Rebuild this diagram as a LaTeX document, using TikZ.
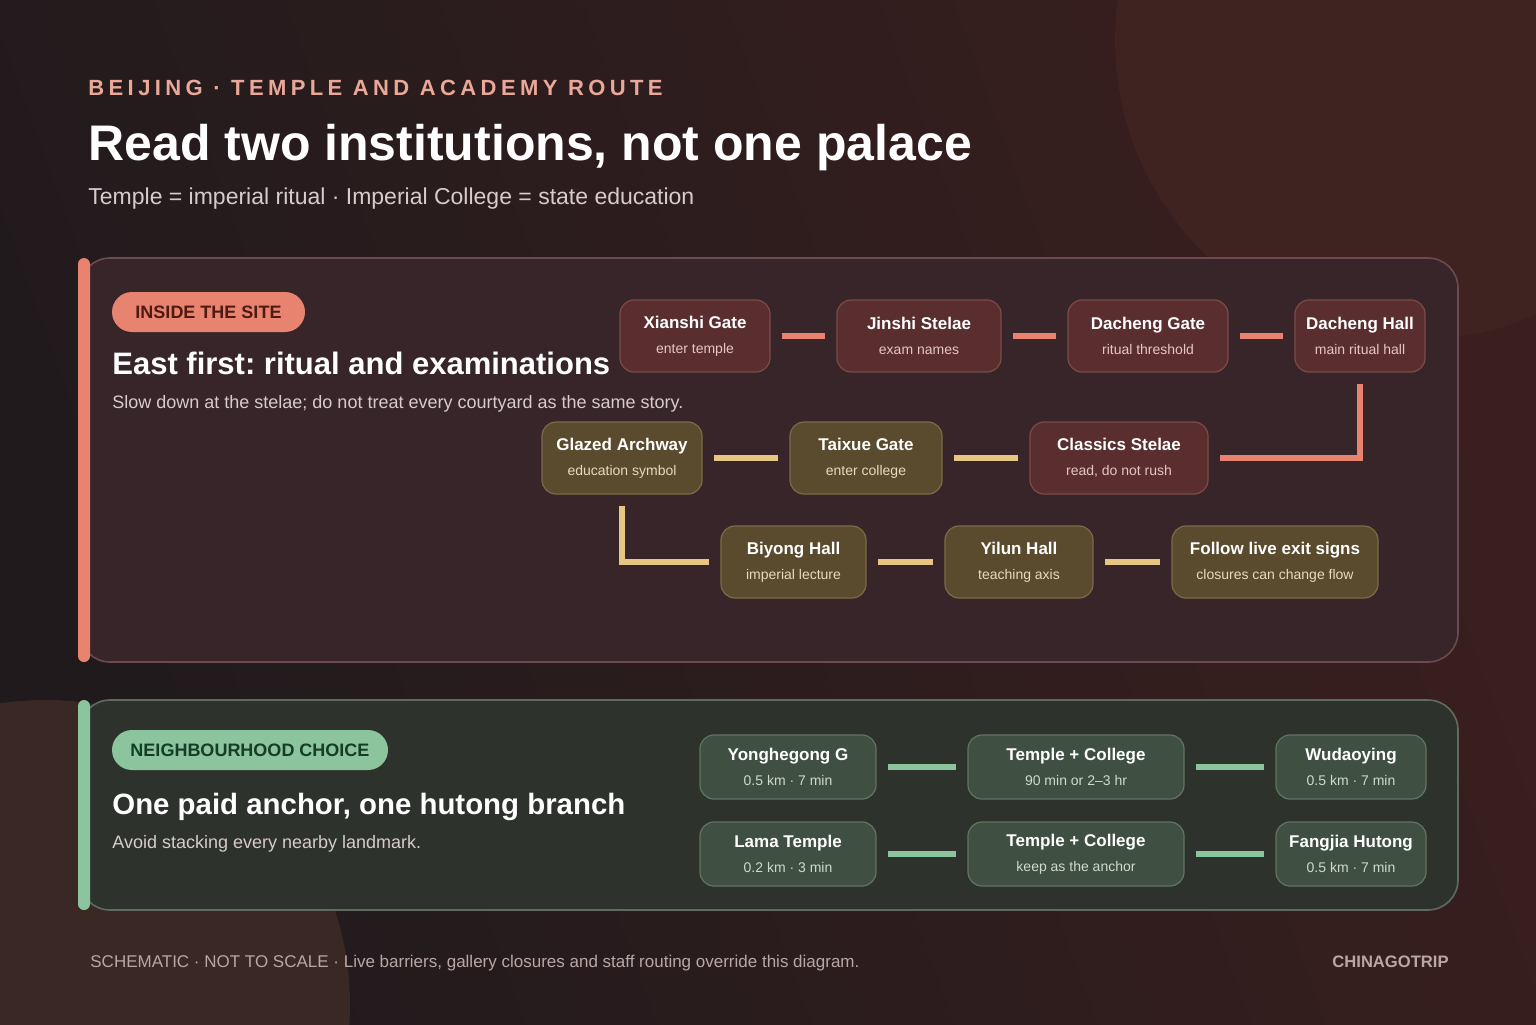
\documentclass[tikz,border=0pt]{standalone}
\usepackage{fontspec}
\setmainfont{Liberation Sans}
\usepackage{tikz}
\usetikzlibrary{positioning}
\usepackage{xcolor}
\frenchspacing
\definecolor{bgleft}{HTML}{201A1D}
\definecolor{bgright}{HTML}{3A1F1E}
\definecolor{blobred}{HTML}{3E2321}
\definecolor{blobbrown}{HTML}{3A2824}
\definecolor{salmon}{HTML}{E8836F}
\definecolor{salmonpale}{HTML}{EAA898}
\definecolor{goldline}{HTML}{E6C682}
\definecolor{mint}{HTML}{8CC49E}
\definecolor{pillred}{HTML}{4E1A12}
\definecolor{pillgreen}{HTML}{163D26}
\definecolor{panelred}{HTML}{37252A}
\definecolor{panelredline}{HTML}{6B4A50}
\definecolor{panelgreen}{HTML}{2E322D}
\definecolor{panelgreenline}{HTML}{5F6B5D}
\definecolor{ritualfill}{HTML}{5A2E2F}
\definecolor{ritualline}{HTML}{7D4B48}
\definecolor{collegefill}{HTML}{5A4A2E}
\definecolor{collegeline}{HTML}{7E6A46}
\definecolor{hoodfill}{HTML}{3F4F42}
\definecolor{hoodline}{HTML}{62755F}
\definecolor{ritualsub}{HTML}{E4C7C0}
\definecolor{collegesub}{HTML}{E6DAC0}
\definecolor{hoodsub}{HTML}{CFDACD}
\definecolor{softtext}{HTML}{D8CBCB}
\definecolor{foottext}{HTML}{B9A7A5}
\newcommand{\stopname}[1]{{\fontsize{8.5}{8.5}\selectfont\bfseries\color{white}#1}}

\tikzset{
  site/.style={rounded corners=7pt, draw, line width=0.6pt, inner sep=0pt,
    minimum height=36pt, align=center, font=\fontsize{7}{12.5}\selectfont},
  ritual/.style={site, fill=ritualfill, draw=ritualline, text=ritualsub},
  college/.style={site, fill=collegefill, draw=collegeline, text=collegesub},
  hood/.style={site, fill=hoodfill, draw=hoodline, text=hoodsub, minimum height=32pt},
  link/.style={line width=3pt, shorten <=5.5pt, shorten >=5.5pt},
  ritualink/.style={link, draw=salmon},
  collegelink/.style={link, draw=goldline},
  hoodlink/.style={link, draw=mint},
  pill/.style={rounded corners=10pt, inner sep=0pt, minimum height=20pt,
    font=\fontsize{9}{9}\selectfont\bfseries},
}

\begin{document}
\begin{tikzpicture}[x=0.5pt,y=-0.5pt]
  \useasboundingbox (0,0) rectangle (1536,1024);
  %% ---- backdrop ----
  \shade[left color=bgleft, right color=bgright, shading angle=110] (0,0) rectangle (1536,1024);
  \fill[blobred] (1415,40) circle (300);
  \fill[blobbrown] (45,1005) circle (305);

  %% ---- heading ----
  \node[anchor=base west, inner xsep=0pt, text=salmonpale, font=\fontsize{11}{11}\selectfont\bfseries\addfontfeature{LetterSpace=20}]
    (kicker) at (88,95) {BEIJING · TEMPLE AND ACADEMY ROUTE};
  \node[anchor=base west, inner xsep=0pt, text=white, font=\fontsize{25}{25}\selectfont\bfseries]
    (title) at (88,160) {Read two institutions, not one palace};
  \node[anchor=base west, inner xsep=0pt, text=softtext, font=\fontsize{11.5}{12}\selectfont]
    (subtitle) at (88,204) {Temple = imperial ritual · Imperial College = state education};

  %% ---- inside the site ----
  \begin{scope}
    \draw[fill=panelred, draw=panelredline, line width=0.8pt, rounded corners=15pt]
      (80,258) rectangle (1458,662);
    \fill[salmon, rounded corners=3pt] (78,258) rectangle (90,662);
    \node[pill, fill=salmon, text=pillred, minimum width=96.5pt] (sitepill) at (208.5,312) {INSIDE THE SITE};
    \node[anchor=base west, inner xsep=0pt, text=white, font=\fontsize{15.5}{16}\selectfont\bfseries]
      (sitehead) at (112,374) {East first: ritual and examinations};
    \node[anchor=base west, inner xsep=0pt, text=softtext, font=\fontsize{9}{10}\selectfont]
      (sitenote) at (112,408) {Slow down at the stelae; do not treat every courtyard as the same story.};

    %% temple row
    \node[ritual, minimum width=75pt] (xianshi) at (695,336) {\stopname{Xianshi Gate}\\ enter temple};
    \node[ritual, minimum width=82pt] (jinshi) at (919,336) {\stopname{Jinshi Stelae}\\ exam names};
    \node[ritual, minimum width=80pt] (dgate) at (1148,336) {\stopname{Dacheng Gate}\\ ritual threshold};
    \node[ritual, minimum width=65pt] (dhall) at (1360,336) {\stopname{Dacheng Hall}\\ main ritual hall};
    %% college rows
    \node[ritual, minimum width=89pt] (classics) at (1119,458) {\stopname{Classics Stelae}\\ read, do not rush};
    \node[college, minimum width=76pt] (taixue) at (866,458) {\stopname{Taixue Gate}\\ enter college};
    \node[college, minimum width=80pt] (glazed) at (622,458) {\stopname{Glazed Archway}\\ education symbol};
    \node[college, minimum width=72.5pt] (biyong) at (793.5,562) {\stopname{Biyong Hall}\\ imperial lecture};
    \node[college, minimum width=74pt] (yilun) at (1019,562) {\stopname{Yilun Hall}\\ teaching axis};
    \node[college, minimum width=103pt] (exitsigns) at (1275,562) {\stopname{Follow live exit signs}\\ closures can change flow};

    \draw[ritualink] (xianshi) -- (jinshi);
    \draw[ritualink] (jinshi) -- (dgate);
    \draw[ritualink] (dgate) -- (dhall);
    \draw[ritualink] (dhall.south) |- (classics.east);
    \draw[collegelink] (classics) -- (taixue);
    \draw[collegelink] (taixue) -- (glazed);
    \draw[collegelink] (glazed.south) |- (biyong.west);
    \draw[collegelink] (biyong) -- (yilun);
    \draw[collegelink] (yilun) -- (exitsigns);
  \end{scope}

  %% ---- neighbourhood choice ----
  \begin{scope}
    \draw[fill=panelgreen, draw=panelgreenline, line width=0.8pt, rounded corners=15pt]
      (80,700) rectangle (1458,910);
    \fill[mint, rounded corners=3pt] (78,700) rectangle (90,910);
    \node[pill, fill=mint, text=pillgreen, minimum width=138pt] (hoodpill) at (250,750) {NEIGHBOURHOOD CHOICE};
    \node[anchor=base west, inner xsep=0pt, text=white, font=\fontsize{14.7}{16}\selectfont\bfseries]
      (hoodhead) at (112,814) {One paid anchor, one hutong branch};
    \node[anchor=base west, inner xsep=0pt, text=softtext, font=\fontsize{9}{10}\selectfont]
      (hoodnote) at (112,848) {Avoid stacking every nearby landmark.};

    \node[hood, minimum width=88pt] (yonghe) at (788,767) {\stopname{Yonghegong G}\\ 0.5 km · 7 min};
    \node[hood, minimum width=108pt] (pairtop) at (1076,767) {\stopname{Temple + College}\\ 90 min or 2–3 hr};
    \node[hood, minimum width=75pt] (wudao) at (1351,767) {\stopname{Wudaoying}\\ 0.5 km · 7 min};
    \node[hood, minimum width=88pt] (lama) at (788,854) {\stopname{Lama Temple}\\ 0.2 km · 3 min};
    \node[hood, minimum width=108pt] (pairlow) at (1076,854) {\stopname{Temple + College}\\ keep as the anchor};
    \node[hood, minimum width=75pt] (fangjia) at (1351,854) {\stopname{Fangjia Hutong}\\ 0.5 km · 7 min};

    \draw[hoodlink] (yonghe) -- (pairtop);
    \draw[hoodlink] (pairtop) -- (wudao);
    \draw[hoodlink] (lama) -- (pairlow);
    \draw[hoodlink] (pairlow) -- (fangjia);
  \end{scope}

  %% ---- footer ----
  \node[anchor=base west, inner xsep=0pt, text=foottext, font=\fontsize{8.5}{9}\selectfont]
    (footnote) at (90,967) {SCHEMATIC · NOT TO SCALE · Live barriers, gallery closures and staff routing override this diagram.};
  \node[anchor=base east, inner xsep=0pt, text=foottext, font=\fontsize{8.3}{9}\selectfont\bfseries]
    (brand) at (1449,967) {CHINAGOTRIP};
\end{tikzpicture}
\end{document}
